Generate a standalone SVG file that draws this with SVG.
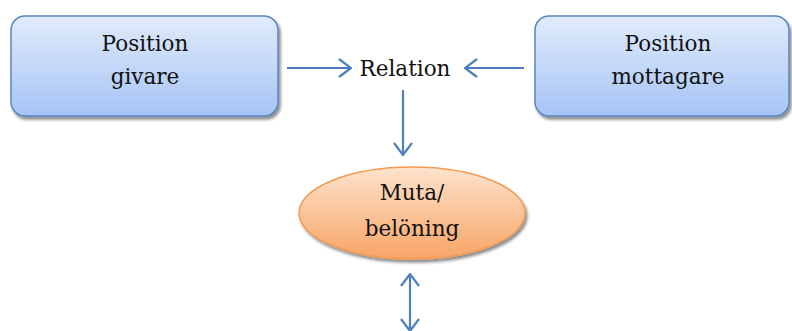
<svg xmlns="http://www.w3.org/2000/svg" width="792" height="331" viewBox="0 0 792 331">
  <style>
    text { font-family: 'DejaVu Serif', serif; font-size: 21.5px; fill: #111; text-anchor: middle; }
    .box { fill: url(#blueGrad); stroke: #5a86bf; stroke-width: 1.5; filter: url(#shadow); }
    .oval { fill: url(#orangeGrad); stroke: #f29a52; stroke-width: 1.5; filter: url(#shadow); }
    .conn { stroke: #4f7fbd; stroke-width: 2.2; fill: none; }
  </style>
  <defs>
    <linearGradient id="blueGrad" x1="0" y1="0" x2="0" y2="1">
      <stop offset="0" stop-color="#e1ebfb"/>
      <stop offset="1" stop-color="#a6c4f5"/>
    </linearGradient>
    <linearGradient id="orangeGrad" x1="0" y1="0" x2="0" y2="1">
      <stop offset="0" stop-color="#fde3cd"/>
      <stop offset="1" stop-color="#f8a566"/>
    </linearGradient>
    <filter id="shadow" x="-10%" y="-10%" width="125%" height="135%">
      <feGaussianBlur in="SourceAlpha" stdDeviation="1.8"/>
      <feOffset dx="2" dy="3" result="b"/>
      <feComponentTransfer><feFuncA type="linear" slope="0.45"/></feComponentTransfer>
      <feMerge><feMergeNode/><feMergeNode in="SourceGraphic"/></feMerge>
    </filter>
    <marker id="chev" viewBox="0 0 14 20" refX="13" refY="10" markerWidth="14" markerHeight="20" markerUnits="userSpaceOnUse" orient="auto-start-reverse">
      <path d="M1,1 L13,10 L1,19" fill="none" stroke="#4f7fbd" stroke-width="2.2"/>
    </marker>
  </defs>

  <g id="position-givare">
    <rect class="box" x="11" y="16" width="267" height="100" rx="14"/>
    <text x="145" y="51">Position</text>
    <text x="145" y="84">givare</text>
  </g>

  <g id="position-mottagare">
    <rect class="box" x="535" y="16" width="254" height="100" rx="14"/>
    <text x="668" y="51">Position</text>
    <text x="668" y="84">mottagare</text>
  </g>

  <g id="relation">
    <text x="405" y="76">Relation</text>
  </g>

  <g id="muta">
    <ellipse class="oval" cx="412" cy="213" rx="113" ry="46"/>
    <text x="412" y="200">Muta/</text>
    <text x="412" y="236">belöning</text>
  </g>

  <g id="connectors">
    <line class="conn" x1="287" y1="68" x2="351" y2="68" marker-end="url(#chev)"/>
    <line class="conn" x1="524" y1="68" x2="465" y2="68" marker-end="url(#chev)"/>
    <line class="conn" x1="403" y1="90" x2="403" y2="155" marker-end="url(#chev)"/>
    <line class="conn" x1="410" y1="274" x2="410" y2="331" marker-start="url(#chev)" marker-end="url(#chev)"/>
  </g>
</svg>
